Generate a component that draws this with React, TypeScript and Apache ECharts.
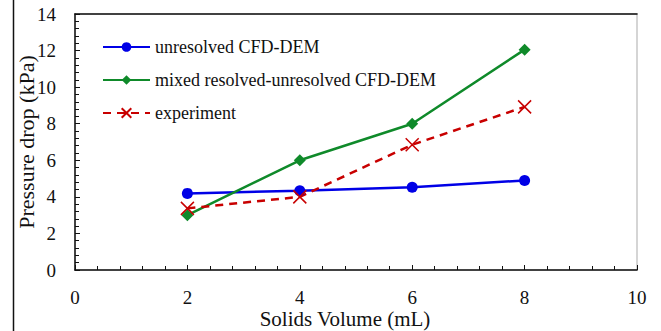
import React, { useEffect, useRef } from "react";
import * as echarts from "echarts";

const xValues = [2, 4, 6, 8];
const unresolved = [4.19, 4.34, 4.52, 4.9];
const mixed = [3.0, 6.0, 8.0, 12.05];
const experiment = [3.37, 4.0, 6.85, 8.92];
const seriesNames = ["unresolved CFD-DEM", "mixed resolved-unresolved CFD-DEM", "experiment"];

const pairs = (ys: number[]) => xValues.map((x, i) => [x, ys[i]]);

const FONT = "'Liberation Serif', 'DejaVu Serif', serif";

export default function App() {
  const ref = useRef<HTMLDivElement>(null);
  useEffect(() => {
    if (!ref.current) return;
    const chart = echarts.init(ref.current, null, { renderer: "svg" });
    chart.setOption({
      animation: false,
      backgroundColor: "#ffffff",
      grid: {
        left: 75,
        right: 24,
        top: 14,
        bottom: 61,
        containLabel: false,
        outerBoundsMode: "none",
        show: true,
        borderColor: "#c8c8c8",
        borderWidth: 1.5,
      },
      legend: {
        left: 97,
        top: 33,
        orient: "vertical",
        itemWidth: 47,
        itemHeight: 12,
        itemGap: 15,
        textStyle: { fontFamily: FONT, fontSize: 18, color: "#111" },
        data: seriesNames,
      },
      xAxis: [
        {
          type: "value",
          min: 0,
          max: 10,
          interval: 2,
          name: "Solids Volume (mL)",
          nameLocation: "middle",
          nameGap: 38,
          nameMoveOverlap: false,
          nameTextStyle: { fontFamily: FONT, fontSize: 21, color: "#111", padding: [0, 22, 0, 0] },
          axisLine: { show: true, lineStyle: { color: "#111", width: 1.5 } },
          axisTick: { show: true, inside: true, length: 5, lineStyle: { color: "#111" } },
          minorTick: { show: true, splitNumber: 5, length: 4, lineStyle: { color: "#111" } },
          axisLabel: { fontFamily: FONT, fontSize: 19, color: "#111", margin: 18 },
          splitLine: { show: false },
        },
        {
          type: "value",
          position: "top",
          min: 0,
          max: 10,
          axisLine: { show: true, lineStyle: { color: "#111", width: 1.5 } },
          axisTick: { show: false },
          axisLabel: { show: false },
          splitLine: { show: false },
        },
      ],
      yAxis: {
        type: "value",
        min: 0,
        max: 14,
        interval: 2,
        name: "Pressure drop (kPa)",
        nameLocation: "middle",
        nameGap: 38,
        nameMoveOverlap: false,
        nameTextStyle: { fontFamily: FONT, fontSize: 22, color: "#111" },
        axisLine: { show: true, lineStyle: { color: "#111", width: 1.5 } },
        axisTick: { show: true, inside: true, length: 5, lineStyle: { color: "#111" } },
        minorTick: { show: true, splitNumber: 5, length: 4, lineStyle: { color: "#111" } },
        axisLabel: { fontFamily: FONT, fontSize: 19, color: "#111", margin: 19 },
        splitLine: { show: false },
      },
      series: [
        {
          name: seriesNames[0],
          type: "line",
          data: pairs(unresolved),
          color: "#0000e6",
          symbol: "circle",
          symbolSize: 11,
          lineStyle: { width: 2.5, color: "#0000e6" },
          itemStyle: { color: "#0000e6" },
        },
        {
          name: seriesNames[1],
          type: "line",
          data: pairs(mixed),
          color: "#0f8a2a",
          symbol: "diamond",
          symbolSize: 12,
          lineStyle: { width: 2.5, color: "#0f8a2a" },
          itemStyle: { color: "#0f8a2a" },
        },
        {
          name: seriesNames[2],
          type: "line",
          data: pairs(experiment),
          color: "#c80000",
          symbol: "path://M0,0 L10,10 M10,0 L0,10",
          symbolSize: 13,
          lineStyle: { width: 2.5, color: "#c80000", type: [8, 6] },
          itemStyle: { color: "none", borderColor: "#c80000", borderWidth: 1.5 },
        },
      ],
      graphic: [
        {
          type: "line",
          shape: { x1: 13.5, y1: 0, x2: 13.5, y2: 331 },
          style: { stroke: "#111", lineWidth: 1.5 },
        },
      ],
    });
    return () => chart.dispose();
  }, []);
  return (
    <div
      ref={ref}
      style={{ position: "fixed", left: 0, top: 0, width: 661, height: 331 }}
    />
  );
}
